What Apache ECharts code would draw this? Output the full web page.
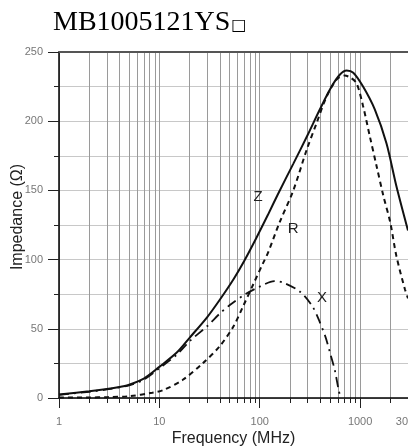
<!DOCTYPE html>
<html>
<head>
<meta charset="utf-8">
<script src="https://cdn.jsdelivr.net/npm/echarts@6/dist/echarts.min.js"></script>
<style>
  html, body { margin: 0; padding: 0; background: #fff; }
  #chart { width: 408px; height: 447px; }
</style>
</head>
<body>
<div id="chart"></div>
<script>
// 阻抗曲线数据 (MHz, Ω)
const freqZ = [1, 2, 3, 4, 5, 7, 10, 15, 20, 30, 40, 55, 70, 93, 120, 150, 215, 300, 400, 520, 630, 735, 855, 1070, 1400, 1830, 2300, 3000];
const zVals = [2.5, 4.8, 6.5, 8, 9.6, 14, 22.5, 33, 43.5, 58.5, 71, 86, 99, 116, 132, 146.5, 169, 190, 209, 225, 233.7, 236.6, 235, 225, 208.5, 184, 153, 121];

const freqR = [1, 2, 3, 5, 8.5, 11, 17, 27, 40, 55, 68, 86, 108, 121, 158, 216, 294, 370, 465, 583, 700, 800, 920, 1070, 1250, 1460, 1700, 2000, 2300, 2800, 3000];
const rVals = [0.3, 0.4, 0.6, 1.3, 3.8, 5.8, 13, 25, 37.5, 52, 66, 82, 97.5, 105, 127, 150, 179.5, 199, 218, 230, 233, 231.5, 227.5, 211, 189, 167.5, 146.5, 126.6, 102.5, 78.4, 72];

const freqX = [1, 2, 3, 5, 7, 10, 15, 20, 30, 40, 50, 70, 100, 140, 170, 250, 330, 380, 450, 500, 560, 610, 640];
const xVals = [2.3, 4.5, 6.2, 9.2, 13.3, 21.5, 31.5, 41, 52, 61, 67, 74.5, 80.5, 84.5, 83.5, 77, 67, 58, 44.5, 33, 20, 6, 0];

// 坐标轴刻度
const xMajorTicks = [1, 10, 100, 1000, 3000];
const xMinorTicks = [1, 2, 3, 4, 5, 6, 7, 8, 9, 10, 20, 30, 40, 50, 60, 70, 80, 90, 100,
  200, 300, 400, 500, 600, 700, 800, 900, 1000, 2000, 3000];

// 曲线旁的字母标注 [名称, 频率, 阻抗]
const curveLabels = [['Z', 96, 145], ['R', 215, 122.5], ['X', 417, 72]];

const pairs = (xs, ys) => xs.map((x, i) => [x, ys[i]]);

const chart = echarts.init(document.getElementById('chart'), null, { renderer: 'canvas' });

const lineColor = '#111';
const sans = 'Liberation Sans, Arial, sans-serif';

function labelPoint(name) {
  const item = curveLabels.find(l => l[0] === name);
  return {
    symbol: 'circle',
    symbolSize: 1,
    silent: true,
    itemStyle: { color: 'rgba(0,0,0,0)' },
    label: {
      show: true,
      position: 'inside',
      formatter: name,
      color: '#222',
      fontSize: 15,
      fontFamily: sans
    },
    data: [{ name: name, coord: [item[1], item[2]] }]
  };
}

const option = {
  animation: false,
  backgroundColor: '#fff',
  title: {
    text: '{a|MB1005121YS}{b|□}',
    left: 48,
    top: 4,
    textStyle: {
      fontWeight: 'normal',
      rich: {
        a: { fontFamily: 'Liberation Serif, Times New Roman, serif', fontSize: 28, fontWeight: 'normal', color: '#000' },
        b: { fontFamily: 'DejaVu Sans, sans-serif', fontSize: 16, fontWeight: 'normal', color: '#000', padding: [6, 0, 0, 1] }
      }
    }
  },
  grid: { left: 59, right: 0, top: 52, bottom: 49, outerBoundsMode: 'none', containLabel: false },
  xAxis: [
    {
      // 次刻度和竖向网格线
      type: 'log',
      logBase: 10,
      min: 1,
      max: 3000,
      axisLine: { show: true, lineStyle: { color: '#000', width: 1.5 } },
      axisTick: { show: true, length: 5, customValues: xMinorTicks, lineStyle: { color: '#222' } },
      axisLabel: { show: false },
      splitLine: { show: true, lineStyle: { color: '#9a9a9a', width: 1 } }
    },
    {
      // 主刻度与标签
      type: 'log',
      logBase: 10,
      min: 1,
      max: 3000,
      position: 'bottom',
      axisLine: { show: false },
      axisTick: { show: true, length: 10, customValues: xMajorTicks, lineStyle: { color: '#222' } },
      axisLabel: {
        customValues: xMajorTicks,
        margin: 18,
        color: '#777',
        fontSize: 11,
        fontFamily: sans,
        formatter: v => String(Math.round(v))
      },
      splitLine: { show: false },
      name: 'Frequency (MHz)',
      nameLocation: 'middle',
      nameGap: 33,
      nameMoveOverlap: false,
      nameTextStyle: { color: '#222', fontSize: 16, fontFamily: sans }
    },
    {
      // 顶部边框
      type: 'log',
      min: 1,
      max: 3000,
      position: 'top',
      axisLine: { show: true, lineStyle: { color: '#555', width: 2 } },
      axisTick: { show: false },
      axisLabel: { show: false },
      splitLine: { show: false }
    }
  ],
  yAxis: {
    type: 'value',
    min: 0,
    max: 250,
    interval: 50,
    axisLine: { show: true, lineStyle: { color: '#000', width: 1.5 } },
    axisTick: { show: true, length: 11, lineStyle: { color: '#222' } },
    minorTick: { show: true, splitNumber: 2, length: 5, lineStyle: { color: '#222' } },
    splitLine: { show: true, lineStyle: { color: '#c8c8c8' } },
    minorSplitLine: { show: true, lineStyle: { color: '#c8c8c8' } },
    axisLabel: {
      margin: 16,
      color: '#777',
      fontSize: 11,
      fontFamily: sans
    },
    name: 'Impedance (Ω)',
    nameLocation: 'middle',
    nameGap: 33,
    nameMoveOverlap: false,
    nameTextStyle: { color: '#222', fontSize: 16, fontFamily: sans, padding: [0, 0, 0, 16] }
  },
  series: [
    {
      name: 'Z',
      type: 'line',
      xAxisIndex: 0,
      data: pairs(freqZ, zVals),
      smooth: 0.3,
      showSymbol: false,
      lineStyle: { color: lineColor, width: 2 },
      markPoint: labelPoint('Z')
    },
    {
      name: 'R',
      type: 'line',
      xAxisIndex: 0,
      data: pairs(freqR, rVals),
      smooth: 0.3,
      showSymbol: false,
      lineStyle: { color: lineColor, width: 2, type: [5, 4] },
      markPoint: labelPoint('R')
    },
    {
      name: 'X',
      type: 'line',
      xAxisIndex: 0,
      data: pairs(freqX, xVals),
      smooth: 0.3,
      showSymbol: false,
      lineStyle: { color: lineColor, width: 1.8, type: [10, 5, 2, 5] },
      markPoint: labelPoint('X')
    }
  ]
};

chart.setOption(option);
</script>
</body>
</html>
